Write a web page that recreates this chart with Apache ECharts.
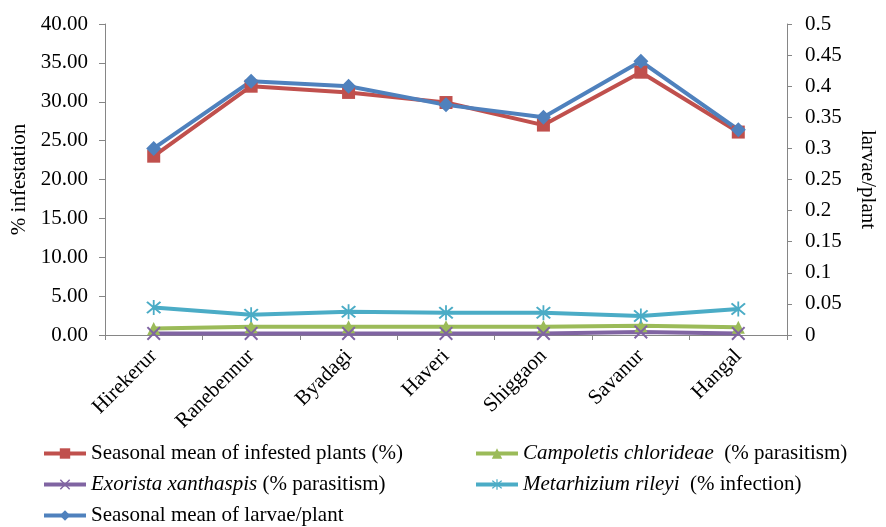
<!DOCTYPE html>
<html><head><meta charset="utf-8">
<script src="https://cdn.jsdelivr.net/npm/echarts@6/dist/echarts.min.js"></script>
<style>html,body{margin:0;padding:0;background:#fff}#c{width:886px;height:527px}</style>
</head><body><div id="c"></div>
<script>
const categories = ['Hirekerur','Ranebennur','Byadagi','Haveri','Shiggaon','Savanur','Hangal'];
const infested = [23.0, 32.0, 31.2, 29.9, 27.0, 33.8, 26.1];
const campoletis = [0.85, 1.05, 1.05, 1.05, 1.05, 1.2, 1.0];
const exorista = [0.2, 0.2, 0.2, 0.2, 0.2, 0.4, 0.2];
const metarhizium = [3.55, 2.6, 3.0, 2.85, 2.85, 2.45, 3.35];
const larvae = [0.30, 0.408, 0.40, 0.37, 0.35, 0.44, 0.33];
const leftTicks = ['0.00','5.00','10.00','15.00','20.00','25.00','30.00','35.00','40.00'];
const rightTicks = ['0','0.05','0.1','0.15','0.2','0.25','0.3','0.35','0.4','0.45','0.5'];

const names = {
  inf: 'Seasonal mean of infested plants (%)',
  camp: 'Campoletis chlorideae',
  exo: 'Exorista xanthaspis',
  met: 'Metarhizium rileyi',
  lar: 'Seasonal mean of larvae/plant'
};
const suffix = {};
suffix[names.camp] = '  (% parasitism)';
suffix[names.exo] = ' (% parasitism)';
suffix[names.met] = '  (% infection)';

const xPath = 'path://M0,1L1,0L5,4L9,0L10,1L6,5L10,9L9,10L5,6L1,10L0,9L4,5Z';
const astPath = 'path://M0,1L1,0L5,4L9,0L10,1L6,5L10,9L9,10L5,6L1,10L0,9L4,5Z M4.4,-1L5.6,-1L5.6,11L4.4,11Z';

const font = 'Liberation Serif';
const fs = 21;
const chart = echarts.init(document.getElementById('c'));
function legendFmt(n){
  if (suffix[n]) return '{i|' + n + '}{n|' + suffix[n] + '}';
  return '{n|' + n + '}';
}
const legendText = {
  fontFamily: font, fontSize: fs, color: '#000',
  rich: {
    i: {fontFamily: font, fontSize: fs, fontStyle: 'italic', color: '#000'},
    n: {fontFamily: font, fontSize: fs, color: '#000'}
  }
};
chart.setOption({
  animation: false,
  grid: {left: 105, right: 90, top: 24, bottom: 192, containLabel: false},
  legend: [
    {data: [names.inf, names.exo, names.lar], orient: 'vertical', left: 42, top: 443, height: 84, width: 420,
     itemGap: 10, padding: 0, lineStyle: {width: 4},
     itemWidth: 42, itemHeight: 13, formatter: legendFmt, textStyle: legendText},
    {data: [names.camp, names.met], orient: 'vertical', left: 474, top: 443, height: 84, width: 400,
     itemGap: 10, padding: 0, lineStyle: {width: 4},
     itemWidth: 42, itemHeight: 13, formatter: legendFmt, textStyle: legendText}
  ],
  xAxis: {
    type: 'category', data: categories, boundaryGap: true,
    axisLine: {lineStyle: {color: '#868686', width: 1}},
    axisTick: {show: true, alignWithLabel: false, length: 5, lineStyle: {color: '#868686'}},
    axisLabel: {rotate: 45, fontFamily: font, fontSize: fs, color: '#000', margin: 18}
  },
  yAxis: [
    {type: 'value', min: 0, max: 40, interval: 5, position: 'left',
     name: '% infestation', nameLocation: 'middle', nameGap: 75, nameRotate: 90,
     nameTextStyle: {fontFamily: font, fontSize: fs, color: '#000'},
     axisLine: {show: true, lineStyle: {color: '#868686'}},
     axisTick: {show: true, length: 6, lineStyle: {color: '#868686'}},
     splitLine: {show: false},
     axisLabel: {fontFamily: font, fontSize: fs, color: '#000', margin: 17,
       formatter: (v) => leftTicks[Math.round(v / 5)]}},
    {type: 'value', min: 0, max: 0.5, interval: 0.05, position: 'right',
     name: 'larvae/plant', nameLocation: 'middle', nameGap: 70, nameRotate: -90,
     nameTextStyle: {fontFamily: font, fontSize: fs, color: '#000'},
     axisLine: {show: true, lineStyle: {color: '#868686'}},
     axisTick: {show: true, length: 5, lineStyle: {color: '#868686'}},
     splitLine: {show: false},
     axisLabel: {fontFamily: font, fontSize: fs, color: '#000', margin: 18,
       formatter: (v) => rightTicks[Math.round(v / 0.05)]}}
  ],
  series: [
    {name: names.inf, type: 'line', data: infested, yAxisIndex: 0, symbol: 'rect', symbolSize: 13,
     lineStyle: {width: 4, color: '#C0504D'}, itemStyle: {color: '#C0504D'}},
    {name: names.camp, type: 'line', data: campoletis, yAxisIndex: 0, symbol: 'triangle', symbolSize: 13,
     lineStyle: {width: 4, color: '#9BBB59'}, itemStyle: {color: '#9BBB59'}},
    {name: names.exo, type: 'line', data: exorista, yAxisIndex: 0, symbol: xPath, symbolSize: 14,
     lineStyle: {width: 4, color: '#8064A2'}, itemStyle: {color: '#8064A2'}},
    {name: names.met, type: 'line', data: metarhizium, yAxisIndex: 0, symbol: astPath, symbolSize: 15,
     lineStyle: {width: 4, color: '#4BACC6'}, itemStyle: {color: '#4BACC6'}},
    {name: names.lar, type: 'line', data: larvae, yAxisIndex: 1, symbol: 'diamond', symbolSize: 15,
     lineStyle: {width: 4, color: '#4F81BD'}, itemStyle: {color: '#4F81BD'}}
  ]
});
</script></body></html>
